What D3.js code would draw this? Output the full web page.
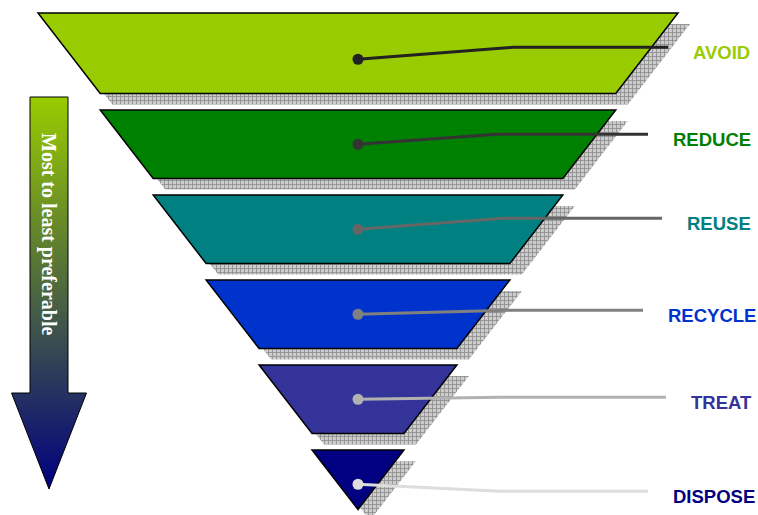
<!DOCTYPE html>
<html>
<head>
<meta charset="utf-8">
<script src="https://cdn.jsdelivr.net/npm/d3@7"></script>
<style>
  body { margin: 0; background: #fff; }
</style>
</head>
<body>
<svg id="chart" width="758" height="515"></svg>
<script>
// tiers, most to least preferable
const tiers = ['AVOID', 'REDUCE', 'REUSE', 'RECYCLE', 'TREAT', 'DISPOSE']
const tierColors = ['#99cc00', '#008000', '#008080', '#0033cc', '#333399', '#000080']
const leaderColors = ['#222222', '#333333', '#666666', '#808080', '#b2b2b2', '#dddddd']
const arrowLabel = 'Most to least preferable'

const svg = d3.select('#chart')
const cx = 358
const topY = 13
const shadow = { dx: 12, dy: 11 }

// leader layout (dy of horizontal run from dot, elbow x, end x)
const leaders = [
  { dy: -12, elbow: 513, end: 668 },
  { dy: -10, elbow: 497, end: 648 },
  { dy: -11, elbow: 503, end: 662 },
  { dy: -4, elbow: 508, end: 643 },
  { dy: -2, elbow: 500, end: 666 },
  { dy: 7, elbow: 500, end: 648 }
]

const defs = svg.append('defs')

// grid pattern for drop shadows
const pat = defs.append('pattern')
  .attr('id', 'grid')
  .attr('width', 4)
  .attr('height', 4)
  .attr('patternUnits', 'userSpaceOnUse')
pat.append('rect').attr('width', 4).attr('height', 4).attr('fill', '#cccccc')
pat.append('path').attr('d', 'M0,0.5H4M0.5,0V4').attr('stroke', '#8c8c8c').attr('stroke-width', 0.8)

const grad = defs.append('linearGradient')
  .attr('id', 'arrowGrad')
  .attr('x1', 0).attr('y1', 0).attr('x2', 0).attr('y2', 1)
grad.append('stop').attr('offset', '0%').attr('stop-color', tierColors[0])
grad.append('stop').attr('offset', '100%').attr('stop-color', tierColors[tierColors.length - 1])

// Scales
const y = d3.scaleBand()
  .domain(tiers)
  .range([25, 518.5])
  .paddingInner(0.194)

const depthMax = 414
const halfW = d3.scaleLinear()
  .domain([0, depthMax])
  .range([320, 0])
  .clamp(true)

// Build layer polygons
let depth = 0
const layers = tiers.map((t, i) => {
  const top = i === 0 ? topY : y(t)
  const bottom = Math.min(y(t) + y.bandwidth(), top + (depthMax - depth))
  const w0 = halfW(depth)
  depth += bottom - top
  const w1 = halfW(depth)
  return {
    tier: t,
    color: tierColors[i],
    top, bottom,
    pts: [[cx - w0, top], [cx + w0, top], [cx + w1, bottom], [cx - w1, bottom]],
    mid: y(t) + y.bandwidth() / 2
  }
})

const line = d3.line()

const g = svg.append('g')
layers.forEach((d, i) => {
  g.append('path')
    .attr('d', line(d.pts.map(p => [p[0] + shadow.dx, p[1] + shadow.dy])) + 'Z')
    .attr('fill', 'url(#grid)')
  g.append('path')
    .attr('d', line(d.pts) + 'Z')
    .attr('fill', d.color)
    .attr('stroke', '#000')
    .attr('stroke-width', 1.5)
    .attr('stroke-linejoin', 'miter')
})

// Leaders and labels
layers.forEach((d, i) => {
  const L = leaders[i]
  const ly = d.mid + L.dy
  svg.append('path')
    .attr('d', line([[cx, d.mid], [L.elbow, ly], [L.end, ly]]))
    .attr('fill', 'none')
    .attr('stroke', leaderColors[i])
    .attr('stroke-width', 3)
  svg.append('circle')
    .attr('cx', cx)
    .attr('cy', d.mid)
    .attr('r', 5.5)
    .attr('fill', leaderColors[i])
  svg.append('text')
    .attr('x', L.end + 25)
    .attr('y', ly + 12)
    .attr('fill', d.color)
    .style('font-family', '"Liberation Sans", Arial, sans-serif')
    .style('font-weight', 'bold')
    .style('font-size', '18.5px')
    .text(d.tier)
})

// Arrow
const ax = 49, bodyHalf = 19, headHalf = 37.5
const aTop = 97, aNeck = 393, aTip = 489
svg.append('path')
  .attr('d', line([
    [ax - bodyHalf, aTop], [ax + bodyHalf, aTop], [ax + bodyHalf, aNeck],
    [ax + headHalf, aNeck], [ax, aTip], [ax - headHalf, aNeck], [ax - bodyHalf, aNeck]
  ]) + 'Z')
  .attr('fill', 'url(#arrowGrad)')
  .attr('stroke', '#000')
  .attr('stroke-width', 1)

svg.append('text')
  .attr('transform', `translate(${ax - 7},133) rotate(90)`)
  .attr('fill', '#ffffff')
  .style('font-family', '"Liberation Serif", "Times New Roman", serif')
  .style('font-weight', 'bold')
  .style('font-size', '20px')
  .text(arrowLabel)
</script>
</body>
</html>
